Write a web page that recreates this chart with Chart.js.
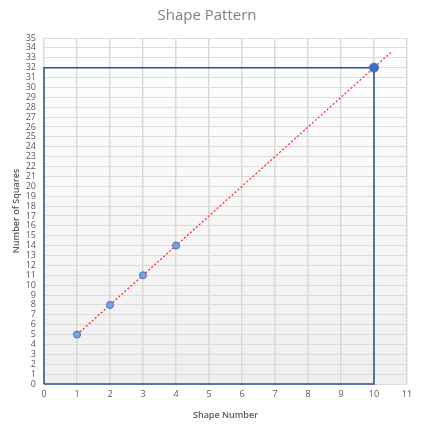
<!DOCTYPE html>
<html>
<head>
<meta charset="utf-8">
<script src="https://cdn.jsdelivr.net/npm/chart.js@4"></script>
<style>
  html, body { margin: 0; padding: 0; background: #fff; }
  #wrap { width: 426px; height: 425px; }
</style>
</head>
<body>
<div id="wrap"><canvas id="shapeChart" width="426" height="425"></canvas></div>
<script>
// data
const shapeNumbers = [1, 2, 3, 4, 10]
const squareCounts = [5, 8, 11, 14, 32]
const trendX = [1, 10.55]
const trendY = [5, 33.65]
const boxX = [0, 0, 10, 10, 0]
const boxY = [0, 32, 32, 0, 0]

const toPoints = (xs, ys) => xs.map((x, i) => ({ x: x, y: ys[i] }))

const plotShade = {
  id: 'plotShade',
  beforeDraw(chart) {
    const { ctx, chartArea: a } = chart
    const g = ctx.createLinearGradient(0, a.top, 0, a.bottom)
    g.addColorStop(0, '#ffffff')
    g.addColorStop(1, '#efefef')
    ctx.save()
    ctx.fillStyle = g
    ctx.fillRect(a.left, a.top, a.right - a.left, a.bottom - a.top)
    ctx.restore()
  }
}

const ctx = document.querySelector('#shapeChart').getContext('2d')
const myChart = new Chart(ctx, {
  type: 'scatter',
  data: {
    datasets: [{
      label: 'Shapes',
      data: toPoints(shapeNumbers, squareCounts),
      backgroundColor: ['#7aa2e0', '#7aa2e0', '#7aa2e0', '#7aa2e0', '#3f6cbf'],
      borderColor: '#4472c4',
      borderWidth: 1,
      pointRadius: [3.5, 3.5, 3.5, 3.5, 4.5],
      order: 1
    }, {
      label: 'Trend',
      data: toPoints(trendX, trendY),
      showLine: true,
      borderColor: '#ff2020',
      borderWidth: 1.2,
      borderDash: [2, 2],
      pointRadius: 0,
      order: 2
    }, {
      label: 'Box',
      data: toPoints(boxX, boxY),
      showLine: true,
      borderColor: '#2f4f8f',
      borderWidth: 1.5,
      pointRadius: 0,
      clip: false,
      order: 3
    }]
  },
  options: {
    responsive: false,
    animation: false,
    layout: { padding: { left: 7, right: 19, top: 0, bottom: 0 } },
    plugins: {
      legend: { display: false },
      tooltip: { enabled: false },
      title: {
        display: true,
        text: 'Shape Pattern',
        color: '#808080',
        font: { family: 'Open Sans', size: 15, weight: 'normal' },
        padding: { top: 7, bottom: 13 }
      }
    },
    scales: {
      x: {
        type: 'linear',
        min: 0,
        max: 11,
        ticks: { stepSize: 1, color: '#595959', font: { family: 'Open Sans', size: 9 }, padding: 5 },
        grid: { color: '#d9d9d9', lineWidth: 1.5, tickLength: 0 },
        border: { display: false },
        title: {
          display: true,
          text: 'Shape Number',
          color: '#595959',
          font: { family: 'Open Sans', size: 9, weight: '600' },
          padding: { top: 3 }
        },
        afterFit(scale) { scale.height = 41 }
      },
      y: {
        min: 0,
        max: 35,
        ticks: { stepSize: 1, autoSkip: false, color: '#595959', font: { family: 'Open Sans', size: 9 }, padding: 8 },
        grid: { color: '#dcdcdc', lineWidth: 1, tickLength: 0 },
        border: { display: false },
        title: {
          display: true,
          text: 'Number of Squares',
          color: '#595959',
          font: { family: 'Open Sans', size: 9, weight: '600' },
          padding: { bottom: 0 }
        },
        afterFit(scale) { scale.width = 37 }
      }
    }
  },
  plugins: [plotShade]
})
</script>
</body>
</html>
